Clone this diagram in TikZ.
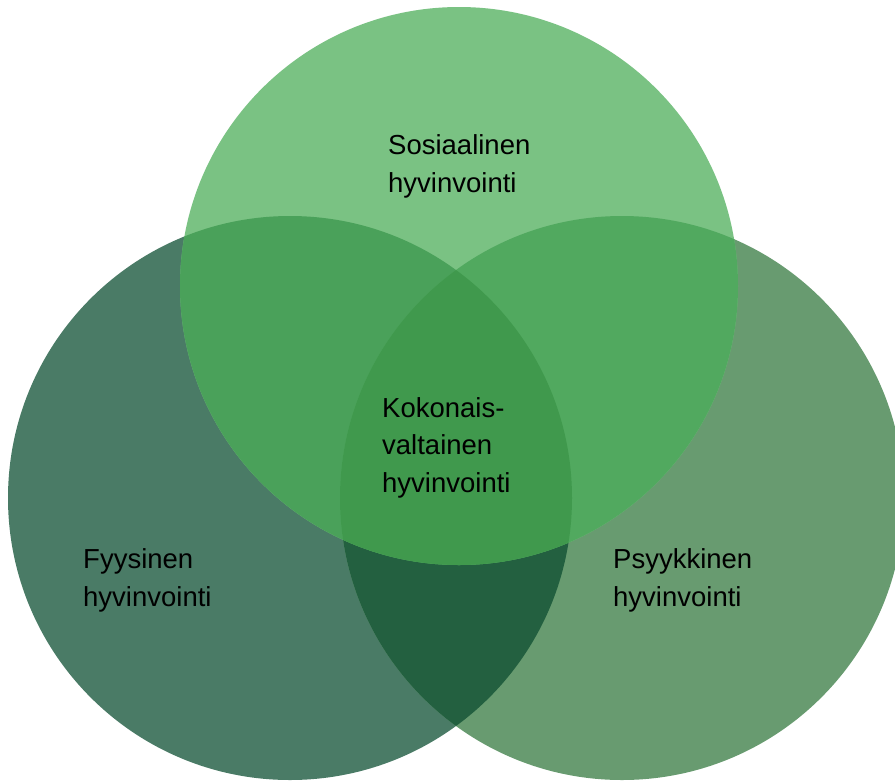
\documentclass[tikz,border=0pt]{standalone}
\usepackage{fontspec}
\usepackage{tikz}
\setmainfont{Liberation Sans}
\definecolor{physical}{RGB}{74,123,102}
\definecolor{mental}{RGB}{104,155,112}
\definecolor{social}{RGB}{122,194,131}
\definecolor{physmental}{RGB}{35,96,64}
\definecolor{socphys}{RGB}{74,161,90}
\definecolor{socmental}{RGB}{81,169,95}
\definecolor{overall}{RGB}{64,153,77}

\begin{document}
\begin{tikzpicture}[x=1pt,y=-1pt,
        text node/.style={anchor=base west,inner sep=0pt,align=left,
          font=\fontsize{27.5}{37.5}\selectfont}
      ]
      \useasboundingbox (0,0) rectangle (895,780);
      % circle centres
      \coordinate (phys) at (290,498);
      \coordinate (ment) at (622,498);
      \coordinate (soc)  at (459,286);

      % single circles
      \fill[physical] (phys) circle (282pt);
      \fill[mental] (ment) circle (282pt);
      \fill[social] (soc) circle (279pt);

      % pairwise overlaps
      \begin{scope}
        \clip (phys) circle (282pt);
        \fill[physmental] (ment) circle (282pt);
      \end{scope}
      \begin{scope}
        \clip (soc) circle (279pt);
        \fill[socphys] (phys) circle (282pt);
        \fill[socmental] (ment) circle (282pt);
      \end{scope}

      % centre
      \begin{scope}
        \clip (soc) circle (279pt);
        \clip (phys) circle (282pt);
        \fill[overall] (ment) circle (282pt);
      \end{scope}

      % labels (base = last line)
      \node[text node] (soclabel) at (388,192) {Sosiaalinen\\hyvinvointi};
      \node[text node] (alllabel) at (382,492) {Kokonais-\\valtainen\\hyvinvointi};
      \node[text node] (physlabel) at (83,606) {Fyysinen\\hyvinvointi};
      \node[text node] (mentlabel) at (613,606) {Psyykkinen\\hyvinvointi};
    \end{tikzpicture}
\end{document}
